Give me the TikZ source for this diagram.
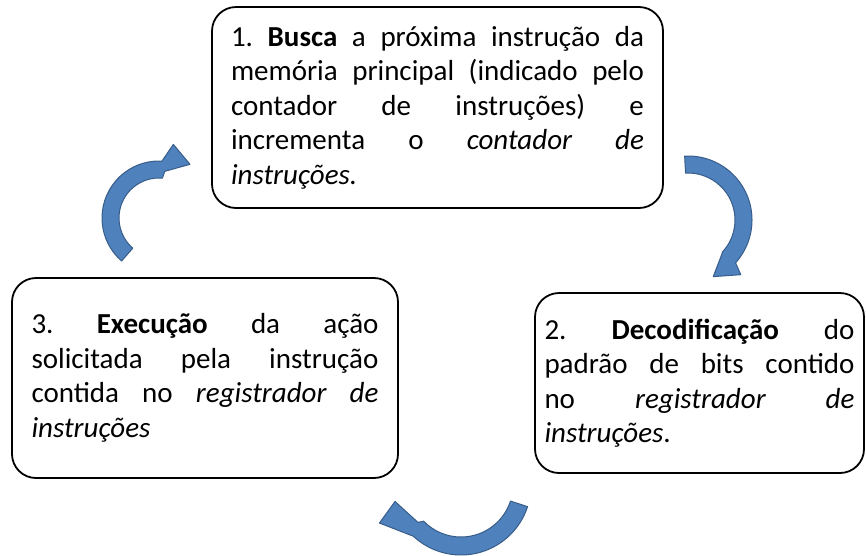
\documentclass[tikz,border=0pt]{standalone}
\usepackage{fontspec}
\setmainfont{Carlito}
\usetikzlibrary{calc}
\definecolor{arrowfill}{HTML}{4F81BD}
\definecolor{arrowline}{HTML}{385D8A}

\begin{document}
\frenchspacing
\begin{tikzpicture}[
  x=1pt, y=-1pt,
  stage/.style={draw, line width=1.8pt, rounded corners=24pt, align=justify,
                font=\fontsize{29}{34.5}\selectfont, inner sep=0pt},
  cyclearrow/.style={fill=arrowfill, draw=arrowline, line width=1pt, line join=round}
]
\useasboundingbox (0,0) rectangle (866,555);

% the three stages of the cycle
\node[stage, minimum width=451pt, minimum height=201pt, text width=413pt] (busca) at (437.5,107.5)
  {1. \textbf{Busca} a próxima instrução da\linebreak memória principal (indicado pelo\linebreak contador de instruções) e\linebreak incrementa o \textit{contador de}\linebreak \textit{instruções.}};
\node[stage, minimum width=329pt, minimum height=180pt, text width=310pt] (decod) at (699.5,383)
  {2. \textbf{Decodificação} do\linebreak padrão de bits contido\linebreak no \textit{registrador de}\linebreak \textit{instruções}.};
\node[stage, minimum width=386pt, minimum height=200pt, text width=347pt] (exec) at (205,378)
  {3. \textbf{Execução} da ação\linebreak solicitada pela instrução\linebreak contida no \textit{registrador de}\linebreak \textit{instruções}};

% curved block arrows between the stages
\coordinate (arcL) at (159,218);
\coordinate (arcR) at (688,220);
\coordinate (arcB) at (461,485);

\draw[cyclearrow] (arcL) ++(131:57) arc[start angle=131, end angle=273, radius=57]
  -- ($(arcL)+(281:75)$) -- ($(arcL)+(300:62)$) -- ($(arcL)+(277:47)$)
  -- ($(arcL)+(275:40)$) arc[start angle=275, end angle=131, radius=40] -- cycle;
\draw[cyclearrow] (arcR) ++(267:64) arc[start angle=267, end angle=402, radius=64]
  -- ($(arcR)+(406:76)$) -- ($(arcR)+(426:62)$) -- ($(arcR)+(405:48)$)
  -- ($(arcR)+(403:47)$) arc[start angle=403, end angle=267, radius=47] -- cycle;
\draw[cyclearrow] (arcB) ++(18:70) arc[start angle=18, end angle=133, radius=70]
  -- ($(arcB)+(155:90)$) -- ($(arcB)+(166:68)$) -- ($(arcB)+(139:57)$)
  -- ($(arcB)+(136:52)$) arc[start angle=136, end angle=18, radius=52] -- cycle;
\end{tikzpicture}
\end{document}
